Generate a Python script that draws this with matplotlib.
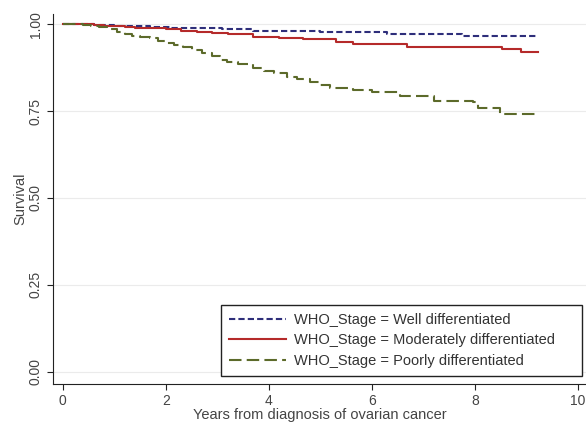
import matplotlib
matplotlib.use('Agg')
import matplotlib.pyplot as plt

plt.rcParams['font.family'] = ['Liberation Sans', 'DejaVu Sans']

# Kaplan-Meier step curves (times in years, survival)
well_t = [0, 0.45, 0.6, 0.8, 1.0, 1.3, 1.7, 2.1, 2.6, 3.1, 3.7, 4.3, 5.0, 5.6, 6.3, 7.75, 9.22]
well_s = [1.0, 0.999, 0.998, 0.997, 0.995, 0.994, 0.992, 0.99, 0.988, 0.985, 0.98, 0.979,
          0.978, 0.976, 0.972, 0.966, 0.966]

mod_t = [0, 0.6, 0.8, 1.0, 1.2, 1.4, 1.7, 2.0, 2.3, 2.6, 2.9, 3.2, 3.7, 4.2, 4.66,
         5.3, 5.63, 6.68, 8.52, 8.9, 9.22]
mod_s = [1.0, 0.998, 0.996, 0.994, 0.992, 0.99, 0.988, 0.985, 0.981, 0.978, 0.975,
         0.971, 0.964, 0.96, 0.956, 0.949, 0.944, 0.935, 0.928, 0.92, 0.92]

poor_t = [0, 0.4, 0.55, 0.7, 0.85, 1.05, 1.2, 1.35, 1.5, 1.69, 1.85, 2.0, 2.15, 2.33,
          2.5, 2.7, 2.9, 3.05, 3.18, 3.4, 3.69, 3.9, 4.1, 4.35, 4.55, 4.8, 4.99, 5.18,
          5.63, 6.0, 6.54, 7.2, 7.96, 8.06, 8.49, 9.22]
poor_s = [1.0, 0.998, 0.995, 0.992, 0.987, 0.978, 0.972, 0.966, 0.962, 0.959, 0.952,
          0.946, 0.941, 0.935, 0.927, 0.918, 0.908, 0.897, 0.892, 0.885, 0.873, 0.866,
          0.86, 0.849, 0.842, 0.834, 0.825, 0.815, 0.81, 0.805, 0.793, 0.78, 0.776,
          0.76, 0.741, 0.741]

labels = ['WHO_Stage = Well differentiated',
          'WHO_Stage = Moderately differentiated',
          'WHO_Stage = Poorly differentiated']

fig = plt.figure(figsize=(5.86, 4.22), dpi=100)
ax = fig.add_axes([0.0904, 0.0905, 0.9096, 0.877])

ax.plot(well_t, well_s, drawstyle='steps-post', color='#2e2e7a', lw=1.5,
        dashes=(3, 1.5), label=labels[0])
ax.plot(mod_t, mod_s, drawstyle='steps-post', color='#b52a2a', lw=1.5,
        label=labels[1])
ax.plot(poor_t, poor_s, drawstyle='steps-post', color='#5c6a2a', lw=1.5,
        dashes=(6, 2.5), label=labels[2])

ax.set_xlim(-0.19, 10.155)
ax.set_ylim(-0.035, 1.03)
ax.set_xticks([0, 2, 4, 6, 8, 10])
ax.set_yticks([0, 0.25, 0.5, 0.75, 1.0])
ax.set_yticklabels(['0.00', '0.25', '0.50', '0.75', '1.00'], rotation=90, va='center')
ax.grid(axis='y', color='#ebebeb', lw=0.8)
ax.set_axisbelow(True)
for s in ['top', 'right']:
    ax.spines[s].set_visible(False)
for s in ['left', 'bottom']:
    ax.spines[s].set_color('#222222')
ax.tick_params(labelsize=10, length=4.5, color='#222222', labelcolor='#444444', pad=3)
ax.set_xlabel('Years from diagnosis of ovarian cancer', fontsize=10.5, labelpad=0,
              color='#444444')
ax.set_ylabel('Survival', fontsize=10.5, labelpad=1, color='#444444')

leg = ax.legend(loc='lower left', bbox_to_anchor=(0.315, 0.0216, 0.6775, 0.2),
                mode='expand', borderaxespad=0, fontsize=10.5,
                frameon=True, fancybox=False, edgecolor='#222222', framealpha=1,
                handlelength=3.9, handletextpad=0.55, borderpad=0.55,
                labelspacing=0.45)
leg.get_frame().set_linewidth(1.0)
for t in leg.get_texts():
    t.set_color('#333333')

fig.savefig('out.png', dpi=100)
